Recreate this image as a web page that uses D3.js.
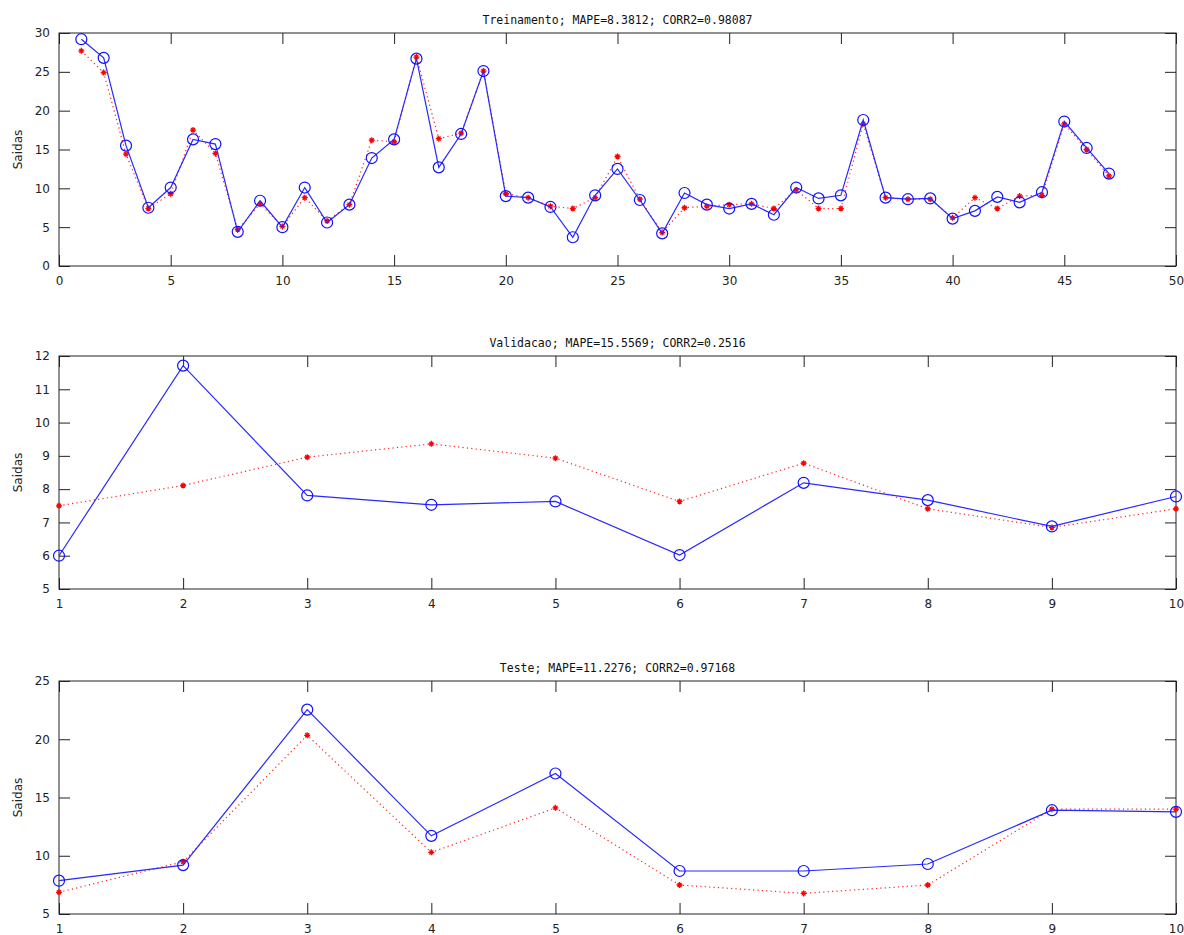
<!DOCTYPE html>
<html>
<head>
<meta charset="utf-8">
<script src="https://cdn.jsdelivr.net/npm/d3@7"></script>
<style>
  body { margin: 0; background: #fff; }
  svg { display: block; }
  .tick text { font-family: 'DejaVu Sans', sans-serif; font-size: 12px; fill: #222; }
</style>
</head>
<body>
<script>
// treinamento (47 amostras)
var trainReal = [29.2, 26.8, 15.5, 7.5, 10.1, 16.3, 15.7, 4.4, 8.4, 5.0,
  10.1, 5.6, 7.9, 13.9, 16.3, 26.7, 12.7, 17.0, 25.1, 9.0,
  8.8, 7.6, 3.7, 9.1, 12.5, 8.5, 4.2, 9.4, 7.9, 7.4,
  8.0, 6.6, 10.1, 8.7, 9.1, 18.8, 8.8, 8.6, 8.7, 6.1,
  7.1, 8.9, 8.2, 9.5, 18.6, 15.2, 11.9];
var trainPred = [27.7, 24.9, 14.4, 7.4, 9.3, 17.5, 14.5, 4.7, 8.0, 5.1,
  8.8, 5.8, 7.9, 16.2, 16.0, 26.9, 16.4, 17.1, 25.1, 9.3,
  8.8, 7.7, 7.4, 8.8, 14.1, 8.6, 4.3, 7.5, 7.7, 7.9,
  8.0, 7.4, 9.8, 7.4, 7.4, 18.3, 8.8, 8.6, 8.6, 6.2,
  8.8, 7.4, 9.0, 9.1, 18.3, 15.0, 11.6];

// validacao (10 amostras)
var validReal = [6.0, 11.71, 7.81, 7.53, 7.63, 6.02, 8.19, 7.67, 6.88, 7.78];
var validPred = [7.5, 8.11, 8.96, 9.36, 8.93, 7.63, 8.78, 7.41, 6.85, 7.41];

// teste (10 amostras)
var testReal = [7.86, 9.2, 22.54, 11.71, 17.06, 8.69, 8.69, 9.29, 13.91, 13.77];
var testPred = [6.86, 9.49, 20.34, 10.29, 14.11, 7.49, 6.77, 7.49, 14.0, 14.0];

var titles = [
  'Treinamento; MAPE=8.3812; CORR2=0.98087',
  'Validacao; MAPE=15.5569; CORR2=0.2516',
  'Teste; MAPE=11.2276; CORR2=0.97168'
];
var xDomains = [[0, 50], [1, 10], [1, 10]];
var yDomains = [[0, 30], [5, 12], [5, 25]];
var xTicks = [d3.range(0, 51, 5), d3.range(1, 11), d3.range(1, 11)];
var yTicks = [d3.range(0, 31, 5), d3.range(5, 13), d3.range(5, 26, 5)];
var yLabel = 'Saidas';

var width = 1184, height = 935;
var svg = d3.select('body').append('svg')
  .attr('width', width)
  .attr('height', height);

// panel boxes (top, bottom)
var left = 59, right = 1176;
var boxes = [[33, 266], [356, 589], [681, 914]];

var panels = [
  {real: trainReal, pred: trainPred},
  {real: validReal, pred: validPred},
  {real: testReal, pred: testPred}
];

panels.forEach(function(p, i) {
  var top = boxes[i][0], bottom = boxes[i][1];
  var x = d3.scaleLinear().domain(xDomains[i]).range([left, right]);
  var y = d3.scaleLinear().domain(yDomains[i]).range([bottom, top]);
  var g = svg.append('g');
  var tickLen = 11;

  // bottom axis with labels
  var xb = g.append('g')
    .attr('transform', 'translate(0,' + bottom + ')')
    .call(d3.axisBottom(x).tickValues(xTicks[i]).tickSize(-tickLen).tickPadding(10).tickFormat(d3.format('d')));
  // top axis, ticks only
  var xt = g.append('g')
    .attr('transform', 'translate(0,' + top + ')')
    .call(d3.axisTop(x).tickValues(xTicks[i]).tickSize(-tickLen).tickFormat(''));
  // left axis with labels
  var yl = g.append('g')
    .attr('transform', 'translate(' + left + ',0)')
    .call(d3.axisLeft(y).tickValues(yTicks[i]).tickSize(-tickLen).tickPadding(9).tickFormat(d3.format('d')));
  // right axis, ticks only
  var yr = g.append('g')
    .attr('transform', 'translate(' + right + ',0)')
    .call(d3.axisRight(y).tickValues(yTicks[i]).tickSize(-tickLen).tickFormat(''));

  [xb, xt, yl, yr].forEach(function(a) {
    a.select('.domain').remove();
    a.selectAll('.tick line').attr('stroke', '#222');
  });

  g.append('rect')
    .attr('x', left).attr('y', top)
    .attr('width', right - left).attr('height', bottom - top)
    .attr('fill', 'none').attr('stroke', '#222').attr('stroke-width', 1);

  // title
  g.append('text')
    .attr('x', (left + right) / 2)
    .attr('y', top - 9)
    .attr('text-anchor', 'middle')
    .style('font-family', "'DejaVu Sans Mono', monospace")
    .style('font-size', '11.5px')
    .style('fill', '#111')
    .text(titles[i]);

  // y label
  g.append('text')
    .attr('transform', 'translate(22,' + ((top + bottom) / 2) + ') rotate(-90)')
    .attr('text-anchor', 'middle')
    .style('font-family', "'DejaVu Sans', sans-serif")
    .style('font-size', '12px')
    .style('fill', '#222')
    .text(yLabel);

  var line = d3.line()
    .x(function(d, k) { return x(k + 1); })
    .y(function(d) { return y(d); });

  // predicted: red dotted with stars
  g.append('path')
    .datum(p.pred)
    .attr('d', line)
    .attr('fill', 'none')
    .attr('stroke', '#ff2020')
    .attr('stroke-width', 1.2)
    .attr('stroke-dasharray', '1.2,3.2');

  g.append('g').selectAll('path.star')
    .data(p.pred)
    .enter()
    .append('path')
    .attr('class', 'star')
    .attr('d', function(d, k) {
      var cx = x(k + 1), cy = y(d), r = 3;
      return 'M' + (cx - r) + ',' + cy + 'H' + (cx + r) +
        'M' + cx + ',' + (cy - r) + 'V' + (cy + r) +
        'M' + (cx - 2) + ',' + (cy - 2) + 'L' + (cx + 2) + ',' + (cy + 2) +
        'M' + (cx - 2) + ',' + (cy + 2) + 'L' + (cx + 2) + ',' + (cy - 2);
    })
    .attr('stroke', '#f00')
    .attr('stroke-width', 1.3);

  // real: blue solid with circles
  g.append('path')
    .datum(p.real)
    .attr('d', line)
    .attr('fill', 'none')
    .attr('stroke', '#2828ff')
    .attr('stroke-width', 1.2);

  g.append('g').selectAll('circle')
    .data(p.real)
    .enter()
    .append('circle')
    .attr('cx', function(d, k) { return x(k + 1); })
    .attr('cy', function(d) { return y(d); })
    .attr('r', 5.5)
    .attr('fill', 'none')
    .attr('stroke', '#1010ff')
    .attr('stroke-width', 1.2);
});
</script>
</body>
</html>
